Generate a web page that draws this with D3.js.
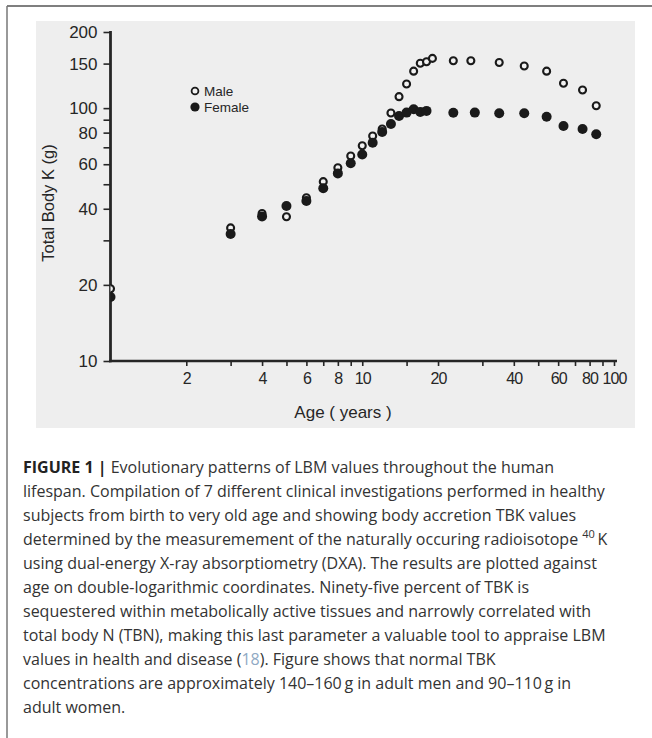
<!DOCTYPE html>
<html>
<head>
<meta charset="utf-8">
<script src="https://cdn.jsdelivr.net/npm/d3@7"></script>
<style>
  html, body { margin: 0; padding: 0; background: #fff; }
  svg { display: block; }
</style>
</head>
<body>
<svg id="chart" width="652" height="738"></svg>
<script>
// ---- data ----
const maleAges   = [1, 3, 4, 5, 6, 7, 8, 9, 10, 11, 12, 13, 14, 15, 16, 17, 18, 19, 23, 27, 35, 44, 54, 63, 75, 85];
const maleTBK    = [19.3, 33.6, 38.3, 37.2, 44.2, 51.2, 58.1, 64.7, 71.0, 77.6, 82.7, 95.7, 111, 124.5, 140, 150.4, 152.6, 157.3, 154, 154, 151.6, 146.7, 140, 125.4, 117.9, 102.2];
const femaleAges = [1, 3, 4, 5, 6, 7, 8, 9, 10, 11, 12, 13, 14, 15, 16, 17, 18, 23, 28, 35, 44, 54, 63, 75, 85];
const femaleTBK  = [17.9, 31.8, 37.3, 41.0, 42.9, 48.2, 55.2, 60.5, 65.6, 73.0, 80.5, 86.5, 93.1, 96.0, 99.0, 96.5, 97.5, 95.9, 96.0, 95.4, 95.4, 92.5, 85.0, 82.7, 78.8];
const xTicks      = [2, 3, 4, 5, 6, 7, 8, 9, 10, 15, 20, 30, 40, 50, 60, 70, 80, 90, 100];
const xTickLabels = [2, 4, 6, 8, 10, 20, 40, 60, 80, 100];
const yTicks      = [10, 20, 30, 40, 50, 60, 70, 80, 90, 100, 150, 200];
const yTickLabels = [10, 20, 40, 60, 80, 100, 150, 200];
const legendItems = ["Male", "Female"];
const xTitle = "Age ( years )";
const yTitle = "Total Body K (g)";
const captionLines = [
  [{t: "FIGURE 1 | ", b: true}, {t: "Evolutionary patterns of LBM values throughout the human"}],
  [{t: "lifespan. Compilation of 7 different clinical investigations performed in healthy"}],
  [{t: "subjects from birth to very old age and showing body accretion TBK values"}],
  [{t: "determined by the measuremement of the naturally occuring radioisotope "}, {t: "40", sup: true}, {t: "\u2009K"}],
  [{t: "using dual-energy X-ray absorptiometry (DXA). The results are plotted against"}],
  [{t: "age on double-logarithmic coordinates. Ninety-five percent of TBK is"}],
  [{t: "sequestered within metabolically active tissues and narrowly correlated with"}],
  [{t: "total body N (TBN), making this last parameter a valuable tool to appraise LBM"}],
  [{t: "values in health and disease ("}, {t: "18", link: true}, {t: "). Figure shows that normal TBK"}],
  [{t: "concentrations are approximately 140\u2013160\u2009g in adult men and 90\u2013110\u2009g in"}],
  [{t: "adult women."}]
];

// ---- drawing ----
const svg = d3.select("#chart");
const ink = "#262626";

// figure frame
svg.append("line").attr("x1", 7).attr("y1", 6).attr("x2", 652).attr("y2", 6)
  .attr("stroke", "#555").attr("stroke-width", 1.5);
svg.append("line").attr("x1", 7).attr("y1", 6).attr("x2", 7).attr("y2", 738)
  .attr("stroke", "#777").attr("stroke-width", 1.5);

// scanned paper background
svg.append("rect").attr("x", 36).attr("y", 21).attr("width", 599).attr("height", 407)
  .attr("fill", "#eeeeee");

const x = d3.scaleLog().domain([1, 100]).range([110.5, 614]);
const y = d3.scaleLog().domain([10, 200]).range([361, 32]);

svg.append("defs").append("clipPath").attr("id", "plotclip")
  .append("rect").attr("x", 110.5).attr("y", 20).attr("width", 520).attr("height", 341);

// x axis
const xAxis = d3.axisBottom(x).tickValues(xTicks).tickSize(5).tickPadding(6)
  .tickFormat(d => xTickLabels.includes(d) ? d : "");
const gx = svg.append("g").attr("transform", "translate(0,361)").call(xAxis);
gx.select(".domain").remove();
gx.append("line").attr("x1", 109).attr("x2", 617).attr("y1", 0).attr("y2", 0)
  .attr("stroke", ink).attr("stroke-width", 2.6);
gx.selectAll(".tick line").attr("stroke", ink).attr("stroke-width", 1.6);
gx.selectAll(".tick text").attr("fill", ink)
  .attr("font-family", "'Liberation Sans',Arial,sans-serif")
  .attr("font-size", 16).attr("letter-spacing", -0.9).attr("dy", "0.72em");

// y axis
const yAxis = d3.axisLeft(y).tickValues(yTicks).tickSize(7).tickPadding(6)
  .tickFormat(d => yTickLabels.includes(d) ? d : "");
const gy = svg.append("g").attr("transform", "translate(110.5,0)").call(yAxis);
gy.select(".domain").remove();
gy.append("line").attr("x1", 0).attr("x2", 0).attr("y1", 31).attr("y2", 362.3)
  .attr("stroke", ink).attr("stroke-width", 2.8);
gy.selectAll(".tick line").attr("stroke", ink).attr("stroke-width", 1.6);
gy.selectAll(".tick text").attr("fill", ink)
  .attr("font-family", "'Liberation Sans',Arial,sans-serif")
  .attr("font-size", 17);

// axis titles
svg.append("text").attr("x", 343).attr("y", 418).attr("text-anchor", "middle")
  .attr("font-family", "'Liberation Sans',Arial,sans-serif").attr("font-size", 17)
  .attr("fill", ink).text(xTitle);
svg.append("text").attr("transform", "translate(54,203) rotate(-90)").attr("text-anchor", "middle")
  .attr("font-family", "'Liberation Sans',Arial,sans-serif").attr("font-size", 16.5)
  .attr("fill", ink).text(yTitle);

// data points
const pts = svg.append("g").attr("clip-path", "url(#plotclip)");
pts.selectAll("circle.male").data(d3.zip(maleAges, maleTBK)).join("circle")
  .attr("class", "male")
  .attr("cx", d => x(d[0])).attr("cy", d => y(d[1])).attr("r", 3.5)
  .attr("fill", "#f2f2f2").attr("stroke", "#1a1a1a").attr("stroke-width", 2.1);
pts.selectAll("circle.female").data(d3.zip(femaleAges, femaleTBK)).join("circle")
  .attr("class", "female")
  .attr("cx", d => x(d[0])).attr("cy", d => y(d[1])).attr("r", 5)
  .attr("fill", "#1a1a1a");

// legend
const lg = svg.append("g").attr("transform", "translate(195,91)");
legendItems.forEach((name, i) => {
  const row = lg.append("g").attr("transform", `translate(0,${i * 16})`);
  if (i === 0) row.append("circle").attr("r", 3.4).attr("fill", "#f2f2f2").attr("stroke", "#1a1a1a").attr("stroke-width", 1.8);
  else row.append("circle").attr("r", 4.6).attr("fill", "#1a1a1a");
  row.append("text").attr("x", 9).attr("dy", "0.36em")
    .attr("font-family", "'Liberation Sans',Arial,sans-serif").attr("font-size", 13.5)
    .attr("fill", ink).text(name);
});

// caption
const cap = svg.append("text").attr("font-family", "'Open Sans','Liberation Sans',Arial,sans-serif")
  .attr("font-size", 16).attr("fill", "#333");
captionLines.forEach((line, i) => {
  const baseY = 473 + i * 24;
  line.forEach((seg, j) => {
    const ts = cap.append("tspan").text(seg.t);
    if (j === 0) ts.attr("x", 23).attr("y", baseY);
    if (seg.b) ts.attr("font-weight", "bold").attr("fill", "#222");
    if (seg.sup) ts.attr("font-size", 11).attr("dy", -7);
    if (seg.t.startsWith("\u2009K")) ts.attr("dy", 7);
    if (seg.link) ts.attr("fill", "#8fa9c4");
  });
});
</script>
</body>
</html>
